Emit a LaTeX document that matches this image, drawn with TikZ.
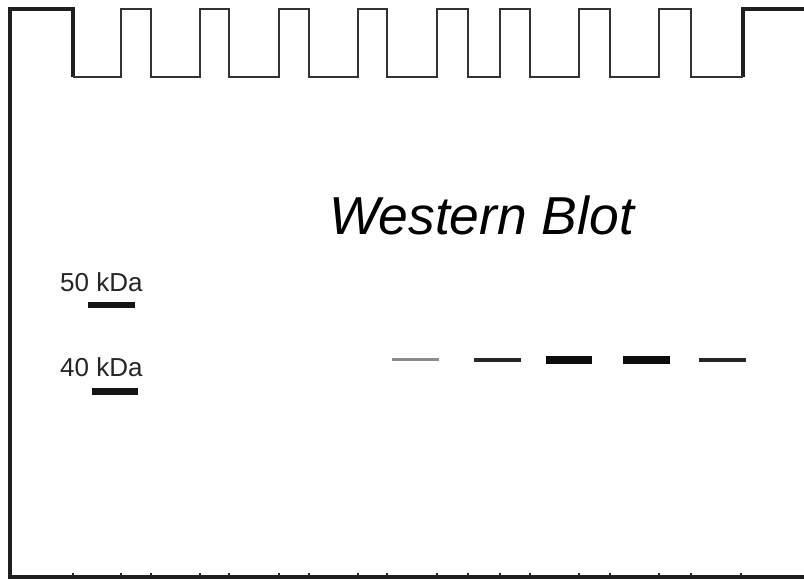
\documentclass[tikz,border=0pt]{standalone}
\usepackage{fontspec}
\setmainfont{Liberation Sans}
\begin{document}
\begin{tikzpicture}[x=1pt,y=-1pt,
  frame/.style={draw=black!88,line width=3.4pt,line join=miter},
  wells/.style={draw=black!80,line width=2.3pt,line join=miter},
  tick/.style={draw=black!85,line width=2pt},
  marker/.style={line width=6.5pt,black!92},
  label/.style={font=\fontsize{26}{29}\selectfont,anchor=base west,inner sep=0pt,text=black!85},
  title/.style={font=\fontsize{53.4}{60}\selectfont\itshape,anchor=base west,inner sep=0pt}]
  \useasboundingbox (0,0) rectangle (804,580);
  \fill[white] (0,0) rectangle (804,580);
  % outer frame of the gel
  \draw[frame] (73,77) -- (73,9) -- (10,9) -- (10,577) -- (804,577);
  \draw[frame] (743,77) -- (743,9) -- (804,9);
  % comb wells along the top edge
  \draw[wells] (73,77) -- (121,77) -- (121,9) -- (151,9) -- (151,77)
    -- (200,77) -- (200,9) -- (229,9) -- (229,77)
    -- (279,77) -- (279,9) -- (309,9) -- (309,77)
    -- (358,77) -- (358,9) -- (387,9) -- (387,77)
    -- (437,77) -- (437,9) -- (468,9) -- (468,77)
    -- (500,77) -- (500,9) -- (530,9) -- (530,77)
    -- (579,77) -- (579,9) -- (610,9) -- (610,77)
    -- (659,77) -- (659,9) -- (691,9) -- (691,77)
    -- (743,77);
  % lane ticks on the bottom edge
  \foreach \x in {73,121,151,200,229,279,309,358,387,437,468,500,530,579,610,659,691,741}
    \draw[tick] (\x,576) -- (\x,573);
  % title
  \node[title] (title) at (329,235) {Western Blot};
  % molecular weight ladder
  \node[label] (m50) at (60,292) {50 kDa};
  \node[label] (m40) at (60,377) {40 kDa};
  \draw[marker] (88,305) -- (135,305);
  \draw[marker] (92,391.5) -- (138,391.5);
  % sample bands
  \draw[line width=3pt,black!45] (392,360) -- (439,360);
  \draw[line width=3.6pt,black!85] (474,360) -- (521,360);
  \draw[line width=8.5pt,black!95] (546,360) -- (592,360);
  \draw[line width=8.5pt,black!95] (623,360) -- (670,360);
  \draw[line width=3.6pt,black!85] (699,360) -- (746,360);
\end{tikzpicture}
\end{document}
